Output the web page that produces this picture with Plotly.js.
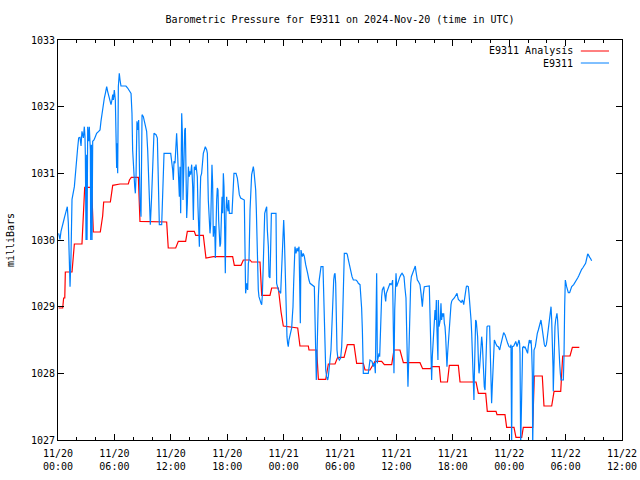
<!DOCTYPE html>
<html><head><meta charset="utf-8">
<script src="https://cdn.plot.ly/plotly-3.0.1.min.js"></script>
<style>html,body{margin:0;padding:0;background:#fff}</style>
</head><body><div id="chart" style="width:640px;height:480px"></div>
<script>
// ---- data ----
const startTime = '2024-11-20 00:00';
const endTime = '2024-11-22 12:00';
const tickTimes = ['2024-11-20 00:00','2024-11-20 06:00','2024-11-20 12:00','2024-11-20 18:00',
  '2024-11-21 00:00','2024-11-21 06:00','2024-11-21 12:00','2024-11-21 18:00',
  '2024-11-22 00:00','2024-11-22 06:00','2024-11-22 12:00'];
const tickLabels = ['11/20<br>00:00','11/20<br>06:00','11/20<br>12:00','11/20<br>18:00',
  '11/21<br>00:00','11/21<br>06:00','11/21<br>12:00','11/21<br>18:00',
  '11/22<br>00:00','11/22<br>06:00','11/22<br>12:00'];
const yTicks = [1027,1028,1029,1030,1031,1032,1033];

// hours after 2024-11-20 00:00 UTC
const analysisHours = [0.07,0.50,0.60,0.72,0.78,1.49,1.74,2.55,2.84,3.58,
3.76,4.50,4.75,4.86,5.57,5.82,6.60,7.48,7.60,7.80,
8.55,8.72,11.56,11.73,12.52,12.80,13.58,13.76,14.50,14.65,
15.46,15.74,16.52,18.58,18.76,19.47,19.72,20.43,20.60,21.49,
21.67,22.55,22.73,23.44,23.73,23.97,25.50,25.74,26.63,26.70,
27.52,27.70,28.48,28.76,29.47,29.75,30.43,30.78,31.49,31.77,
32.48,32.66,33.19,33.72,34.43,34.72,35.50,35.74,36.38,36.74,
38.51,38.79,39.65,39.75,40.56,40.71,41.43,41.63,42.59,42.77,
44.47,44.72,45.50,45.67,46.60,46.70,47.55,47.73,48.51,48.72,
49.33,49.50,50.50,50.67,51.52,51.70,52.52,52.77,53.48,53.69,
54.47,54.72,55.46];
const analysisPressure = [1028.98,1028.98,1029.13,1029.13,1029.52,1029.52,1029.94,1029.94,1030.79,1030.79,
1030.12,1030.12,1030.36,1030.57,1030.57,1030.82,1030.84,1030.84,1030.90,1030.94,
1030.94,1030.28,1030.27,1029.88,1029.88,1029.98,1029.98,1030.13,1030.13,1030.07,
1030.07,1029.73,1029.75,1029.75,1029.62,1029.62,1029.70,1029.70,1029.67,1029.67,
1029.17,1029.17,1029.28,1029.28,1028.92,1028.71,1028.68,1028.41,1028.41,1028.35,
1028.35,1027.91,1027.91,1028.14,1028.14,1028.24,1028.24,1028.43,1028.43,1028.15,
1028.15,1028.05,1028.05,1028.18,1028.18,1028.13,1028.13,1028.35,1028.35,1028.16,
1028.16,1028.07,1028.07,1028.10,1028.10,1027.87,1027.87,1028.12,1028.12,1027.87,
1027.87,1027.70,1027.70,1027.43,1027.43,1027.38,1027.38,1027.19,1027.19,1027.04,
1027.04,1027.19,1027.19,1027.96,1027.96,1027.51,1027.51,1027.73,1027.73,1028.26,
1028.26,1028.39,1028.39];

const stationHours = [
0.07,0.21,0.32,0.43,0.57,0.71,0.85,0.99,1.10,1.17,
1.28,1.38,1.49,1.74,1.84,1.99,2.09,2.20,2.34,2.45,
2.55,2.70,2.80,2.87,2.91,2.98,3.05,3.09,3.16,3.26,
3.33,3.44,3.48,3.55,3.62,3.69,3.83,3.97,4.11,4.33,
4.47,4.57,4.68,4.82,4.93,5.04,5.18,5.28,5.39,5.53,
5.64,5.74,5.82,5.89,5.99,6.10,6.17,6.24,6.28,6.35,
6.42,6.52,6.60,6.70,7.23,7.41,7.77,7.87,7.94,8.05,
8.16,8.23,8.30,8.40,8.51,8.58,8.65,8.72,8.83,8.94,
9.08,9.18,9.29,9.43,9.54,9.65,9.72,9.82,
9.96,10.07,10.21,10.43,10.57,10.64,10.71,10.78,11.03,11.10,
11.21,11.28,11.99,12.09,12.20,12.27,12.34,12.45,12.55,12.62,
12.69,12.80,12.87,12.91,12.98,13.05,13.16,13.23,13.30,13.33,
13.40,13.48,13.55,13.62,13.69,13.76,13.87,13.97,14.04,14.11,
14.22,14.33,14.40,14.50,14.61,14.68,14.75,14.82,14.89,14.96,
15.04,15.11,15.18,15.28,15.39,15.46,15.57,15.67,15.82,15.89,
15.99,16.10,16.17,16.24,16.31,16.38,16.45,16.52,16.60,16.67,
16.74,16.81,16.88,16.95,17.02,17.09,17.16,17.23,17.30,17.38,
17.45,17.52,17.59,17.66,17.73,17.80,17.87,17.94,18.01,18.09,
18.16,18.23,18.51,18.58,18.65,18.72,18.94,19.08,19.15,19.22,
19.29,19.43,19.72,19.82,
19.89,19.96,20.07,20.18,20.25,20.32,20.43,20.50,20.60,20.71,
20.78,20.85,20.96,21.03,21.10,21.17,21.24,21.31,21.38,21.49,
21.60,21.67,21.74,21.84,21.92,21.99,22.09,22.20,22.27,22.38,
22.45,22.55,22.62,22.70,23.19,23.26,23.44,23.69,23.76,23.87,
23.94,24.01,24.08,24.15,24.22,24.29,24.36,24.43,24.50,24.57,
24.72,24.86,24.93,25.00,25.07,25.14,25.21,25.32,25.43,25.53,
25.64,25.71,25.78,25.85,25.99,26.10,26.21,26.35,26.45,26.56,
26.70,26.81,27.27,27.34,27.41,27.48,27.55,27.62,27.70,27.77,
27.87,27.98,28.19,28.26,28.33,28.40,28.48,28.58,28.69,28.76,
28.83,28.94,29.04,29.11,29.18,29.26,29.33,29.40,29.47,29.54,
29.61,29.68,29.75,29.93,
30.07,30.18,30.25,30.32,30.39,30.46,30.71,30.78,30.89,30.99,
31.06,31.17,31.28,31.42,31.70,31.84,31.95,32.13,32.23,32.30,
32.38,32.45,32.48,33.01,33.09,33.16,33.19,33.40,33.55,33.62,
33.69,33.76,33.83,33.90,33.94,33.97,34.01,34.08,34.15,34.22,
34.29,34.36,34.43,34.50,34.57,34.65,34.72,34.79,34.86,34.93,
35.00,35.07,35.18,35.25,35.32,
35.43,35.53,35.60,35.67,35.74,35.82,35.89,35.96,36.03,36.10,
36.17,36.28,36.38,36.49,36.60,36.70,36.81,36.91,37.02,37.09,
37.16,37.23,37.30,37.38,37.45,37.52,37.59,37.66,37.73,37.80,
37.87,37.94,38.01,38.08,38.16,38.23,38.33,38.44,38.51,38.62,
38.69,38.76,38.86,38.97,39.50,39.57,39.65,39.72,39.75,39.82,
39.93,40.04,
40.11,40.18,40.25,40.28,40.35,40.42,40.46,40.53,40.60,40.67,
40.74,40.81,40.89,40.96,41.03,41.10,41.17,41.24,41.31,41.38,
41.45,41.52,41.60,41.67,41.74,41.81,41.88,41.95,42.16,42.27,
42.38,42.45,42.52,42.59,42.80,42.91,43.01,43.08,43.16,43.23,
43.30,43.37,43.44,43.51,43.58,43.65,43.72,43.79,43.87,43.94,
44.01,44.08,44.15,44.22,44.25,44.29,44.36,44.43,44.50,44.57,
44.64,44.72,44.79,44.86,44.93,45.00,45.07,45.14,45.21,45.28,
45.35,45.43,45.50,45.57,45.64,45.71,45.92,45.99,46.06,46.13,
46.20,46.28,46.35,46.42,46.56,46.70,46.84,46.99,47.06,47.13,
47.20,47.27,47.34,47.41,47.55,47.69,47.84,47.98,48.12,48.19,
48.26,48.33,48.48,48.62,48.69,48.76,48.83,48.90,48.97,49.04,
49.11,49.15,49.22,49.29,49.36,49.43,49.54,49.61,49.68,
49.86,49.96,50.03,50.14,50.25,50.32,50.39,50.46,50.50,50.53,
50.57,50.64,50.78,50.85,50.92,50.99,51.10,51.20,51.31,51.38,
51.45,51.52,51.59,51.67,51.74,51.84,51.95,52.02,52.09,52.16,
52.23,52.30,52.38,52.45,52.52,52.59,52.66,52.69,52.73,52.80,
52.87,52.94,53.01,53.08,53.15,53.23,53.30,53.37,53.44,53.51,
53.76,53.83,53.90,53.97,54.04,54.11,54.18,54.29,54.43,54.54,
54.65,54.86,54.96,55.07,55.18,55.28,55.39,55.50,55.60,55.71,
55.82,55.92,56.03,56.13,56.21,56.28,56.35,56.42,56.49,56.56,
56.63,56.70,56.77];
const stationPressure = [
1030.10,1030.01,1030.13,1030.18,1030.27,1030.35,1030.42,1030.50,1030.25,1029.93,
1029.30,1029.75,1030.61,1030.80,1031.00,1031.20,1031.38,1031.53,1031.54,1031.41,
1031.63,1031.53,1031.70,1031.55,1031.28,1030.00,1031.28,1030.00,1031.70,1031.48,
1031.70,1031.35,1030.00,1031.43,1030.00,1031.48,1031.50,1031.55,1031.60,1031.63,
1031.65,1031.78,1031.90,1032.03,1032.13,1032.20,1032.30,1032.23,1032.16,1032.10,
1032.03,1032.10,1032.18,1032.10,1032.25,1032.10,1031.20,1031.08,1031.45,1031.00,
1032.30,1032.50,1032.40,1032.31,1032.31,1032.28,1032.20,1031.90,1031.35,1030.95,
1030.80,1030.70,1030.95,1031.78,1031.65,1031.80,1030.95,1030.60,1030.35,1031.88,
1031.85,1031.78,1031.68,1031.63,1031.35,1031.00,1030.60,1030.23,
1030.65,1031.25,1031.60,1031.58,1031.53,1031.10,1030.50,1030.23,1030.23,1030.60,
1031.10,1031.30,1031.30,1031.20,1031.05,1030.90,1031.18,1031.15,1031.45,1031.60,
1031.40,1031.10,1030.70,1030.65,1031.10,1030.40,1031.90,1031.60,1030.60,1030.85,
1031.40,1031.65,1031.68,1031.10,1030.33,1030.55,1031.10,1030.95,1031.03,1030.98,
1031.13,1030.80,1030.30,1031.10,1031.05,1031.13,1031.03,1030.95,1030.50,1030.10,
1029.90,1030.60,1030.95,1031.00,1031.23,1031.30,1031.35,1031.40,1031.35,1031.30,
1030.60,1030.20,1030.10,1030.23,1030.80,1031.13,1030.85,1030.05,1030.20,1030.20,
1029.73,1030.45,1030.60,1030.78,1030.75,1030.30,1029.95,1029.90,1029.95,1030.55,
1030.65,1030.40,1031.00,1030.80,1030.15,1029.50,1030.40,1030.65,1030.50,1030.43,
1030.60,1030.40,1030.40,1030.65,1030.80,1031.00,1031.00,1030.93,1030.85,1030.75,
1030.68,1030.63,1030.60,1030.60,
1029.90,1029.20,1029.35,1029.25,1029.65,1029.70,1030.45,1030.85,1030.98,1031.05,
1031.10,1031.03,1030.88,1030.75,1030.45,1029.85,1029.45,1029.25,1029.15,1029.08,
1029.05,1029.03,1029.18,1029.65,1030.10,1030.40,1030.45,1030.50,1030.15,1029.90,
1029.45,1029.43,1029.85,1030.40,1030.40,1029.35,1029.25,1029.20,1029.45,1029.85,
1030.05,1030.30,1030.05,1029.60,1029.05,1028.70,1028.55,1028.45,1028.40,1028.50,
1028.58,1028.68,1028.85,1029.00,1029.35,1029.70,1029.90,1029.80,1029.88,1029.83,
1029.90,1029.35,1028.75,1029.85,1029.75,1029.80,1029.75,1029.63,1029.58,1029.50,
1029.40,1029.35,1029.30,1028.95,1028.35,1027.90,1028.25,1029.00,1029.15,1029.38,
1029.50,1029.60,1029.60,1029.25,1028.75,1028.35,1028.05,1027.95,1027.90,1027.95,
1028.05,1028.15,1028.35,1028.60,1028.95,1029.25,1029.40,1029.48,1029.50,1029.35,
1028.70,1028.35,1028.25,1028.20,
1028.23,1028.40,1028.68,1029.15,1029.43,1029.80,1029.80,1029.78,1029.70,1029.63,
1029.55,1029.50,1029.45,1029.40,1029.40,1029.38,1029.35,1029.33,1029.15,1028.98,
1028.65,1028.33,1028.00,1028.00,1028.08,1028.15,1028.20,1028.18,1028.10,1028.15,
1028.13,1028.00,1029.13,1029.50,1028.90,1028.15,1028.20,1028.25,1028.30,1028.25,
1028.65,1028.90,1029.15,1029.25,1029.28,1029.30,1029.23,1029.10,1029.08,1029.20,
1029.23,1029.25,1029.30,1029.33,1029.35,
1029.33,1029.35,1029.40,1028.70,1028.00,1028.95,1029.35,1029.50,1029.30,1029.33,
1029.38,1029.40,1029.45,1029.48,1029.50,1029.48,1029.45,1029.28,1029.13,1028.65,
1028.10,1027.80,1028.15,1028.65,1028.95,1029.35,1029.45,1029.48,1029.51,1029.55,
1029.58,1029.60,1029.61,1029.53,1029.45,1029.40,1029.38,1029.35,1029.33,1029.20,
1029.08,1029.00,1029.18,1029.30,1029.31,1028.95,1028.55,1028.25,1027.90,1028.25,
1028.50,1028.80,
1028.95,1028.80,1029.10,1028.80,1028.25,1028.20,1029.10,1028.70,1028.75,1028.80,
1029.05,1028.80,1028.90,1028.85,1028.90,1028.75,1028.70,1028.55,1028.20,1028.10,
1028.30,1028.45,1028.70,1028.85,1028.93,1029.03,1029.08,1029.10,1029.13,1029.15,
1029.18,1029.20,1029.15,1029.11,1029.08,1029.06,1029.10,1029.08,1029.03,1029.10,
1029.20,1029.25,1029.30,1029.31,1029.31,1029.30,1029.20,1029.10,1029.00,1028.80,
1028.60,1028.20,1027.85,1027.70,1027.60,1027.95,1028.45,1028.80,1028.78,1028.70,
1028.55,1028.20,1028.00,1028.10,1028.30,1028.40,1028.55,1028.45,1028.20,1027.95,
1027.80,1027.75,1028.20,1028.50,1028.70,1028.71,1028.71,1028.30,1027.80,1027.55,
1027.80,1028.10,1028.40,1028.50,1028.45,1028.41,1028.40,1028.35,1028.40,1028.45,
1028.50,1028.55,1028.60,1028.61,1028.58,1028.50,1028.45,1028.40,1028.39,1028.43,
1026.90,1028.40,1028.41,1028.45,1028.48,1028.45,1028.40,1028.43,1028.48,1028.50,
1028.45,1028.30,1026.90,1027.70,1028.20,1028.39,1028.40,1028.38,1028.40,
1028.35,1028.30,1028.40,1028.50,1028.45,1028.50,1028.35,1028.00,1026.90,1027.30,
1027.95,1028.35,1028.40,1028.50,1028.55,1028.60,1028.65,1028.70,1028.78,1028.80,
1028.73,1028.65,1028.60,1028.50,1028.43,1028.40,1028.43,1028.50,1028.60,1028.68,
1028.75,1028.80,1028.93,1029.00,1028.80,1028.50,1028.10,1027.73,1028.00,1028.50,
1028.70,1028.80,1028.85,1028.90,1028.80,1028.50,1028.20,1028.15,1028.00,1027.90,
1027.90,1028.25,1029.00,1029.40,1029.35,1029.30,1029.25,1029.21,1029.21,1029.25,
1029.30,1029.33,1029.35,1029.38,1029.40,1029.43,1029.46,1029.50,1029.54,1029.56,
1029.58,1029.60,1029.63,1029.65,1029.70,1029.75,1029.79,1029.78,1029.75,1029.74,
1029.73,1029.70,1029.69];

// ---- drawing ----
const FONT = 'DejaVu Sans Mono, monospace';
const RED = '#ff0000';
const BLUE = '#0080ff';
function toTime(h) {
  const d = new Date(Date.UTC(2024, 10, 20) + Math.round(h * 3600) * 1000);
  return d.toISOString().slice(0, 19).replace('T', ' ');
}

const traces = [
  {x: analysisHours.map(toTime), y: analysisPressure, type: 'scatter', mode: 'lines',
   name: 'E9311 Analysis', line: {color: RED, width: 1.2}, showlegend: false},
  {x: stationHours.map(toTime), y: stationPressure, type: 'scatter', mode: 'lines',
   name: 'E9311', line: {color: BLUE, width: 1.2}, showlegend: false}
];

const legendItems = [
  {text: 'E9311 Analysis', color: RED, y: 0.9725},
  {text: 'E9311', color: BLUE, y: 0.9425}
];

const layout = {
  width: 640, height: 480,
  margin: {l: 58, r: 18, t: 40, b: 40, pad: 0},
  paper_bgcolor: '#fff', plot_bgcolor: '#fff',
  font: {family: FONT, size: 10, color: '#000'},
  title: {text: 'Barometric Pressure for E9311 on 2024-Nov-20 (time in UTC)',
          font: {family: FONT, size: 10, color: '#000'},
          xref: 'paper', x: 0.5, xanchor: 'center', yref: 'container', y: 0.96, yanchor: 'middle'},
  showlegend: false,
  xaxis: {
    type: 'date', range: [startTime, endTime], autorange: false,
    tickmode: 'array', tickvals: tickTimes, ticktext: tickLabels,
    ticks: 'inside', ticklen: 6, tickwidth: 1, tickcolor: '#000',
    showline: true, linecolor: '#000', linewidth: 1, mirror: 'allticks',
    showgrid: false, zeroline: false, ticklabelstandoff: 4,
    tickfont: {family: FONT, size: 10, color: '#000'},
    minor: {ticks: 'inside', ticklen: 3, tickwidth: 1, tickcolor: '#000',
            dtick: 2 * 3600 * 1000, tick0: startTime, showgrid: false}
  },
  yaxis: {
    range: [1027, 1033], autorange: false,
    tickmode: 'array', tickvals: yTicks, ticktext: yTicks.map(String),
    ticks: 'inside', ticklen: 6, tickwidth: 1, tickcolor: '#000',
    showline: true, linecolor: '#000', linewidth: 1, mirror: 'allticks',
    showgrid: false, zeroline: false,
    tickfont: {family: FONT, size: 10, color: '#000'},
    title: {text: 'milliBars', font: {family: FONT, size: 10, color: '#000'}, standoff: 14}
  },
  annotations: legendItems.map(it => ({
    xref: 'paper', yref: 'paper', x: 0.917, y: it.y, xanchor: 'right', yanchor: 'middle',
    text: it.text, showarrow: false, font: {family: FONT, size: 10, color: '#000'}
  })),
  shapes: legendItems.map(it => ({
    type: 'line', xref: 'paper', yref: 'paper', x0: 0.927, x1: 0.977, y0: it.y, y1: it.y,
    line: {color: it.color, width: 1}
  }))
};

Plotly.newPlot('chart', traces, layout, {displayModeBar: false, staticPlot: true});
</script>
</body></html>
